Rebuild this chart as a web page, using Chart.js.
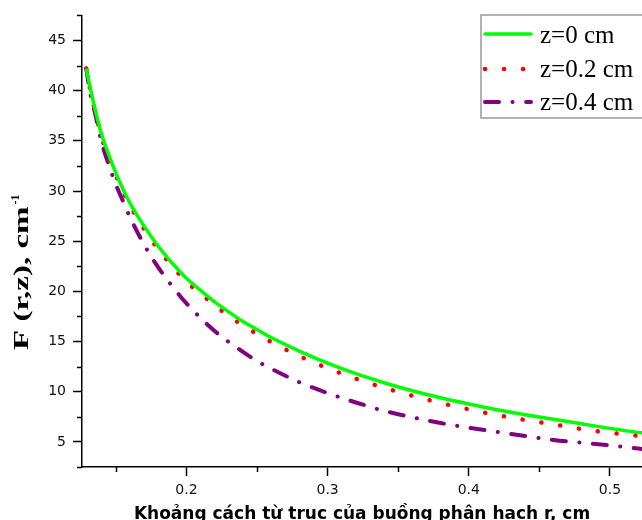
<!DOCTYPE html>
<html lang="vi">
<head>
    <meta charset="UTF-8">
    <title>F(r,z)</title>
    <script src="https://cdn.jsdelivr.net/npm/chart.js"></script>
    <style>
        body {
            margin: 0;
            background: white;
        }
        canvas {
            display: block;
        }
    </style>
</head>
<body>
    <canvas id="fluxChart" width="642" height="520"></canvas>

    <script>
        // r, cm
        const rValues = [0.129, 0.132, 0.135, 0.14, 0.145, 0.15, 0.155, 0.16, 0.17, 0.18, 0.19, 0.20,
                         0.21, 0.22, 0.23, 0.24, 0.25, 0.26, 0.28, 0.30, 0.32, 0.34, 0.36, 0.38,
                         0.40, 0.42, 0.44, 0.46, 0.48, 0.50, 0.52, 0.53];
        // F(r,z), cm^-1
        const fZ0 = [42.2, 40.2, 38.3, 35.6, 33.6, 31.8, 30.2, 28.8, 26.5, 24.5, 22.8, 21.3,
                     20.1, 18.95, 17.95, 17.0, 16.2, 15.4, 14.05, 12.85, 11.8, 10.9, 10.1, 9.4,
                     8.78, 8.2, 7.7, 7.25, 6.8, 6.35, 5.95, 5.8];
        const fZ02 = [42.2, 40.0, 38.1, 35.3, 33.3, 31.55, 29.95, 28.55, 26.2, 24.2, 22.5, 20.95,
                      19.8, 18.6, 17.55, 16.6, 15.75, 14.95, 13.55, 12.35, 11.3, 10.4, 9.6, 8.88,
                      8.25, 7.68, 7.18, 6.75, 6.28, 5.9, 5.62, 5.48];
        const fZ04 = [42.2, 39.6, 37.9, 34.8, 32.6, 30.65, 29.0, 27.4, 24.65, 22.4, 20.5, 18.8,
                      17.35, 16.05, 14.95, 13.98, 13.05, 12.3, 10.95, 9.87, 8.93, 8.1, 7.45, 6.88,
                      6.42, 6.0, 5.58, 5.2, 4.92, 4.65, 4.34, 4.2];

        const seriesLabels = ["z=0 cm", "z=0.2 cm", "z=0.4 cm"];
        const xTicks = [0.15, 0.2, 0.25, 0.3, 0.35, 0.4, 0.45, 0.5];
        const yTicks = [2.5, 5, 7.5, 10, 12.5, 15, 17.5, 20, 22.5, 25, 27.5, 30,
                        32.5, 35, 37.5, 40, 42.5, 45, 47.5];

        const xTitle = "Khoảng cách từ trục của buồng phân hạch r, cm";
        const yTitle = "F (r,z), cm";

        function isMajor(v, step) {
            const k = v / step;
            return Math.abs(k - Math.round(k)) < 1e-6;
        }

        function points(ys) {
            return rValues.map((r, i) => ({ x: r, y: ys[i] }));
        }

        // minor ticks, axis titles and the boxed legend
        const extras = {
            id: "extras",
            afterDraw(chart) {
                const ctx = chart.ctx;
                const xs = chart.scales.x;
                const ys = chart.scales.y;
                ctx.save();

                ctx.strokeStyle = "#000";
                ctx.lineWidth = 1.5;
                xTicks.filter(v => !isMajor(v, 0.1)).forEach(v => {
                    const px = Math.round(xs.getPixelForValue(v)) + 0.5;
                    ctx.beginPath();
                    ctx.moveTo(px, xs.top);
                    ctx.lineTo(px, xs.top + 5);
                    ctx.stroke();
                });
                yTicks.filter(v => !isMajor(v, 5)).forEach(v => {
                    const py = Math.round(ys.getPixelForValue(v)) + 0.5;
                    ctx.beginPath();
                    ctx.moveTo(ys.right - 5, py);
                    ctx.lineTo(ys.right, py);
                    ctx.stroke();
                });

                // x title
                ctx.fillStyle = "#000";
                ctx.font = "bold 17px 'DejaVu Sans'";
                ctx.textAlign = "center";
                ctx.textBaseline = "alphabetic";
                ctx.fillText(xTitle, (chart.chartArea.left + chart.chartArea.right) / 2, 519);

                // y title, rotated and stretched like the original
                ctx.save();
                ctx.translate(28, 350);
                ctx.rotate(-Math.PI / 2);
                ctx.font = "bold 20px 'Liberation Serif'";
                ctx.textAlign = "left";
                const w = ctx.measureText(yTitle).width;
                const sx = 1.65;
                ctx.save();
                ctx.scale(sx, 1);
                ctx.fillText(yTitle, 0, 0);
                ctx.restore();
                ctx.font = "bold 12px 'Liberation Serif'";
                ctx.fillText("-1", w * sx + 2, -9);
                ctx.restore();

                // legend
                ctx.strokeStyle = "#999";
                ctx.lineWidth = 1.5;
                ctx.strokeRect(481, 15, 200, 103);
                const rowLine = [34, 69, 102];
                const rowText = [43, 77, 110];
                chart.data.datasets.forEach((ds, i) => {
                    ctx.strokeStyle = ds.borderColor;
                    ctx.lineWidth = ds.borderWidth;
                    ctx.lineCap = "round";
                    ctx.setLineDash(ds.borderDash || []);
                    ctx.beginPath();
                    ctx.moveTo(485, rowLine[i]);
                    ctx.lineTo(531, rowLine[i]);
                    ctx.stroke();
                    ctx.setLineDash([]);
                    ctx.fillStyle = "#000";
                    ctx.font = "25px 'Liberation Serif'";
                    ctx.textAlign = "left";
                    ctx.fillText(ds.label, 540, rowText[i]);
                });

                ctx.restore();
            }
        };

        const ctx = document.getElementById("fluxChart").getContext("2d");

        const chart = new Chart(ctx, {
            type: "line",
            data: {
                datasets: [
                    {
                        label: seriesLabels[0],
                        data: points(fZ0),
                        borderColor: "#00ff00",
                        borderWidth: 3.5,
                        borderDash: [],
                        pointRadius: 0,
                        cubicInterpolationMode: "monotone"
                    },
                    {
                        label: seriesLabels[1],
                        data: points(fZ02),
                        borderColor: "#ff0000",
                        borderWidth: 4.5,
                        borderDash: [0.1, 18.9],
                        borderCapStyle: "round",
                        pointRadius: 0,
                        cubicInterpolationMode: "monotone"
                    },
                    {
                        label: seriesLabels[2],
                        data: points(fZ04),
                        borderColor: "#800080",
                        borderWidth: 4,
                        borderDash: [14, 13.5, 0.1, 13.5],
                        borderCapStyle: "round",
                        pointRadius: 0,
                        cubicInterpolationMode: "monotone"
                    }
                ]
            },
            options: {
                responsive: false,
                animation: false,
                layout: { padding: { top: 13, right: 0, left: 0, bottom: 0 } },
                plugins: {
                    legend: { display: false },
                    tooltip: { enabled: false }
                },
                scales: {
                    x: {
                        type: "linear",
                        min: 0.126,
                        max: 0.5227,
                        afterBuildTicks: (s) => { s.ticks = xTicks.map(v => ({ value: v })); },
                        afterFit: (s) => { s.height = 53; },
                        ticks: {
                            autoSkip: false,
                            maxRotation: 0,
                            padding: 6,
                            color: "#111",
                            font: { family: "'DejaVu Sans'", size: 14 },
                            callback: (v) => isMajor(v, 0.1) ? v.toFixed(1) : ""
                        },
                        grid: {
                            drawOnChartArea: false,
                            tickLength: 9,
                            tickWidth: 1.5,
                            tickColor: (c) => isMajor(c.tick.value, 0.1) ? "#000" : "rgba(0,0,0,0)"
                        },
                        border: { color: "#000", width: 1.5 }
                    },
                    y: {
                        min: 2.5,
                        max: 47.5,
                        afterBuildTicks: (s) => { s.ticks = yTicks.map(v => ({ value: v })); },
                        afterFit: (s) => { s.width = 82; },
                        ticks: {
                            autoSkip: false,
                            padding: 7,
                            color: "#111",
                            font: { family: "'DejaVu Sans'", size: 14 },
                            callback: (v) => isMajor(v, 5) ? String(v) : ""
                        },
                        grid: {
                            drawOnChartArea: false,
                            tickLength: 9,
                            tickWidth: 1.5,
                            tickColor: (c) => isMajor(c.tick.value, 5) ? "#000" : "rgba(0,0,0,0)"
                        },
                        border: { color: "#000", width: 1.5 }
                    }
                }
            },
            plugins: [extras]
        });
    </script>
</body>
</html>
